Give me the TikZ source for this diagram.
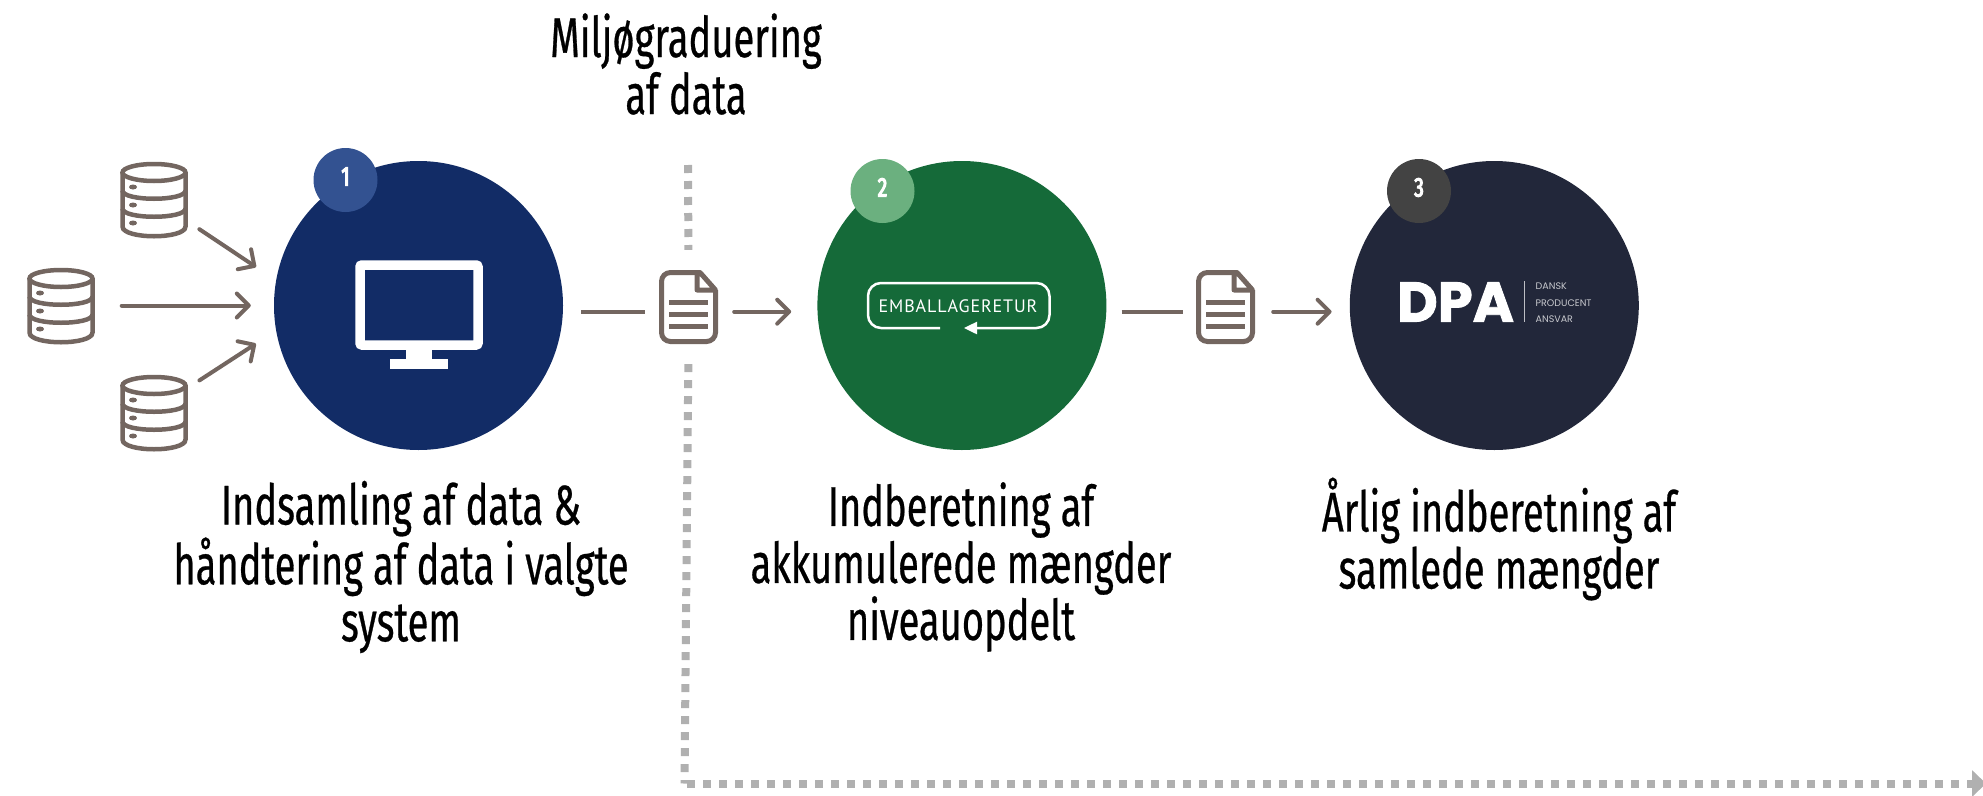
\documentclass[tikz,border=0pt]{standalone}
\usepackage{fontspec}
\usepackage{tikz}
\usetikzlibrary{positioning}
\usetikzlibrary{arrows.meta}
\newfontfamily\titlefont[FakeStretch=0.68,FakeBold=0.5]{Fira Sans}
\newfontfamily\badgefont[FakeStretch=0.72,FakeBold=4]{Fira Sans}
\newfontfamily\retfont[LetterSpace=5]{PT Sans}
\newfontfamily\logofont[BoldFeatures={FakeBold=1.5}]{Poppins}
\definecolor{brownline}{HTML}{736660}
\definecolor{dotgray}{HTML}{B0B0B0}
\definecolor{navycirc}{HTML}{122C66}
\definecolor{navybadge}{HTML}{335291}
\definecolor{greencirc}{HTML}{156A39}
\definecolor{greenbadge}{HTML}{6BB07F}
\definecolor{darkcirc}{HTML}{22273A}
\definecolor{darkbadge}{HTML}{434343}
\tikzset{
  stepcirc/.style={circle, minimum size=289pt, inner sep=0pt},
  badge/.style={circle, minimum size=64pt, inner sep=0pt, text=white, text height=19pt, text depth=8pt, font=\badgefont\fontsize{27}{27}\selectfont},
  title/.style={align=center, inner sep=0pt, font=\titlefont\fontsize{56}{57}\selectfont},
  dbbox/.style={minimum width=67pt, minimum height=75pt, inner sep=0pt},
  docbox/.style={minimum width=59pt, minimum height=74pt, inner sep=0pt},
  iconline/.style={draw=brownline, line width=4.5pt},
  flow/.style={draw=brownline, line width=4pt, line cap=round},
  flowhead/.style={flow, -{Straight Barb[length=12pt,width=24pt,round]}},
  divider/.style={draw=dotgray, line width=8pt, dash pattern=on 8pt off 8pt},
  dbicon/.pic={
    \draw[iconline] (0,-27) ellipse [x radius=31.5pt, y radius=8.5pt];
    \draw[iconline] (-31.5,-27) -- (-31.5,27) .. controls (-31.5,40) and (31.5,40) .. (31.5,27) -- (31.5,-27);
    \draw[iconline] (-31.5,-9) .. controls (-31.5,2) and (31.5,2) .. (31.5,-9);
    \draw[iconline] (-31.5,9) .. controls (-31.5,20) and (31.5,20) .. (31.5,9);
    \fill[brownline] (-21,-12.5) ellipse [x radius=4pt, y radius=2.5pt];
    \fill[brownline] (-21,5.5) ellipse [x radius=4pt, y radius=2.5pt];
    \fill[brownline] (-21,23.5) ellipse [x radius=4pt, y radius=2.5pt];
  },
  docicon/.pic={
    \draw[iconline, line width=5pt, rounded corners=9pt] (11.5,-34.5) -- (-27,-34.5) -- (-27,34.5) -- (27,34.5) -- (27,-17);
    \draw[iconline, line width=5pt, line join=round] (27,-17) -- (11.5,-34.5) -- (8.5,-34.5) -- (8.5,-17) -- cycle;
    \fill[brownline] (-19.5,-7) rectangle (19.5,-2);
    \fill[brownline] (-19.5,5) rectangle (19.5,10);
    \fill[brownline] (-19.5,16.5) rectangle (19.5,21.5);
  },
}

\begin{document}
\begin{tikzpicture}[x=1pt, y=-1pt]
  \useasboundingbox (0,0) rectangle (1983,795);
  % nodes %
  \node[stepcirc, fill=navycirc] (circa) at (418.5,305.5) {};
  \node[stepcirc, fill=greencirc, right=254pt of circa] (circb) {};
  \node[stepcirc, fill=darkcirc, right=243pt of circb] (circc) {};
  \node[badge, fill=navybadge] (nra) at (345.5,180) {1};
  \node[badge, fill=greenbadge] (nrb) at (882.5,191) {2};
  \node[badge, fill=darkbadge] (nrc) at (1419,191) {3};
  \node[dbbox] (dbtop) at (154,199.5) {};
  \node[dbbox] (dbmid) at (61,305.5) {};
  \node[dbbox] (dbbot) at (154,412.5) {};
  \node[docbox] (doca) at (688.5,307) {};
  \node[docbox] (docb) at (1225.5,307) {};
  \coordinate (divtop) at (688,165);
  \coordinate (divcorner) at (684.5,783.5);
  \coordinate (divend) at (1986,783.5);
  \node[title] (miljo) at (686,64) {Miljøgraduering\\af data};
  \node[title] (texta) at (401,567) {Indsamling af data \&\\håndtering af data i valgte\\system};
  \node[title] (textb) at (961,567) {Indberetning af\\akkumulerede mængder\\niveauopdelt};
  \node[title] (textc) at (1499,539) {Årlig indberetning af\\samlede mængder};
  \node[text=white, font=\retfont\fontsize{18}{18}\selectfont] (emb) at (958,306) {EMBALLAGERETUR};
  \node[text=white, font=\logofont\bfseries\fontsize{56}{56}\selectfont, inner sep=0pt] (dpa) at (1455.5,302) {DPA};
  \node[text=white!75!darkcirc, align=left, anchor=west, inner sep=0pt, font=\logofont\fontsize{9.5}{16.5}\selectfont] (dpasub) at (1535.5,303) {DANSK\\PRODUCENT\\ANSVAR};
  % icons %
  \pic at (dbtop) {dbicon};
  \pic at (dbmid) {dbicon};
  \pic at (dbbot) {dbicon};
  \pic at (doca) {docicon};
  \pic at (docb) {docicon};
  \draw[white, line width=9.5pt, rounded corners=2pt] (360,265) rectangle (478,345);
  \fill[white] (406,350) rectangle (432,360);
  \fill[white] (390,359) rectangle (448,369);
  \draw[white, line width=2.5pt, rounded corners=13pt, -{Triangle[length=13pt,width=12pt]}] (940,328) -- (868,328) -- (868,283) -- (1049.5,283) -- (1049.5,328) -- (964,328);
  \draw[white!70!darkcirc, line width=1pt] (1524,281) -- (1524,322);
  % edges %
  \draw[flowhead, shorten <=14pt, shorten >=24pt] (dbtop.-33) -- (circa.170);
  \draw[flowhead, shorten <=27pt, shorten >=23pt] (dbmid.east) -- (circa.west);
  \draw[flowhead, shorten <=14pt, shorten >=24pt] (dbbot.36) -- (circa.-170);
  \draw[flow, line cap=butt, shorten <=18pt, shorten >=14pt] (doca.189.6 -| circa.east) -- (doca.189.6);
  \draw[flowhead, shorten <=16pt, shorten >=26pt] (doca.-9.6) -- (doca.-9.6 -| circb.west);
  \draw[flow, line cap=butt, shorten <=15pt, shorten >=13pt] (docb.189.6 -| circb.east) -- (docb.189.6);
  \draw[flowhead, shorten <=18pt, shorten >=18pt] (docb.-9.6) -- (docb.-9.6 -| circc.west);
  \draw[divider, shorten >=20pt] (divtop) -- (doca.north);
  \draw[divider, shorten <=20pt] (doca.south) -- (divcorner);
  \draw[divider, dash phase=13.5pt, -{Triangle[length=14pt,width=26pt]}] (divcorner) -- (divend);
\end{tikzpicture}
\end{document}
